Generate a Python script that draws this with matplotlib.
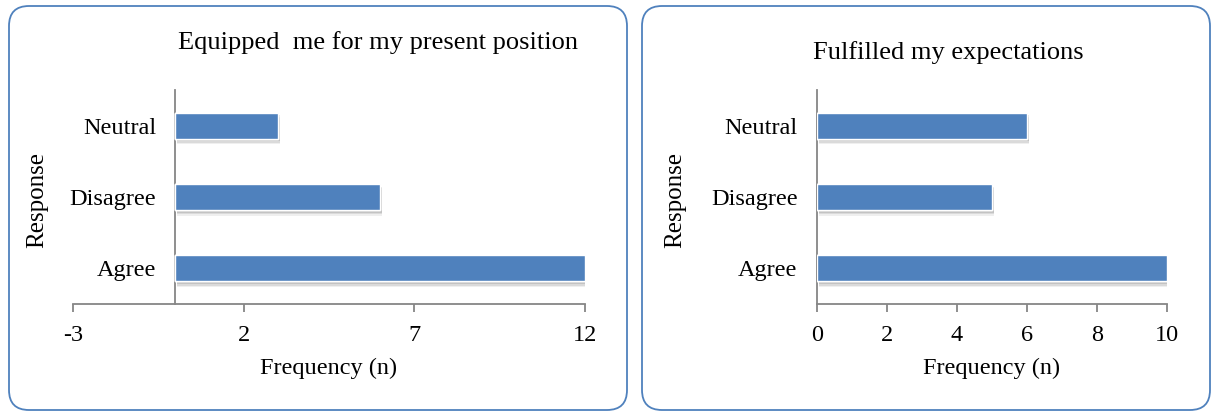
import matplotlib
matplotlib.use("Agg")
import matplotlib.pyplot as plt
import matplotlib.patheffects as pe
from matplotlib.patches import FancyBboxPatch

plt.rcParams['font.family'] = ['Liberation Serif', 'DejaVu Serif']

categories = ["Agree", "Disagree", "Neutral"]
left_values = [12, 6, 3]
right_values = [10, 5, 6]
left_title = "Equipped  me for my present position"
right_title = "Fulfilled my expectations"
left_ticks = [-3, 2, 7, 12]
right_ticks = [0, 2, 4, 6, 8, 10]

W, H = 1212, 412
fig = plt.figure(figsize=(W / 100, H / 100), dpi=100)

def fx(px):
    return px / W

def fy(py):
    return 1 - py / H

# rounded frames
for (x0, x1) in [(9, 627), (642, 1210)]:
    box = FancyBboxPatch((fx(x0), fy(410)), fx(x1 - x0), (410 - 6) / H,
                         boxstyle="round,pad=0,rounding_size=0.0165",
                         transform=fig.transFigure, facecolor="none",
                         edgecolor="#4f81bd", linewidth=1.3,
                         mutation_aspect=W / H, zorder=-1)
    fig.patches.append(box)

bar_color = "#4f81bd"
axis_color = "#868686"
FS = 17.5

def make(ax_px, values, xlim, ticks, title, title_xy, ylabel_x):
    x0, x1, ytop, ybot = ax_px
    ax = fig.add_axes([fx(x0), fy(ybot), fx(x1 - x0), (ybot - ytop) / H])
    ax.patch.set_alpha(0)
    bars = ax.barh(categories, values, height=0.365, color=bar_color,
                   edgecolor="white", linewidth=1.0, zorder=3)
    shadow = [pe.withSimplePatchShadow(offset=(1.5, -o), shadow_rgbFace="#808080",
                                       alpha=a)
              for o, a in [(4, 0.12), (3, 0.18), (2, 0.25)]]
    for b in bars:
        b.set_path_effects(shadow + [pe.Normal()])
    ax.set_xlim(*xlim)
    ax.set_ylim(-0.5, 2.5)
    ax.set_xticks(ticks)
    ax.set_xticklabels([str(t) for t in ticks])
    for s in ["top", "right"]:
        ax.spines[s].set_visible(False)
    for s in ["bottom", "left"]:
        ax.spines[s].set_color(axis_color)
        ax.spines[s].set_linewidth(1.3)
    ax.spines["left"].set_position(("data", 0))
    ax.tick_params(axis="x", direction="out", length=6, width=1.3,
                   color=axis_color, labelsize=FS, pad=9, labelcolor="black")
    ax.tick_params(axis="y", length=0, labelsize=FS, pad=14)
    ax.set_xlabel("Frequency (n)", fontsize=FS)
    ax.xaxis.set_label_coords(fx((x0 + x1) / 2), fy(358), transform=fig.transFigure)
    ax.set_ylabel("Response", fontsize=FS + 0.5)
    ax.yaxis.set_label_coords(fx(ylabel_x), fy(200), transform=fig.transFigure)
    fig.text(fx(title_xy[0]), fy(title_xy[1]), title, fontsize=19,
             ha="center", va="center")
    return ax

axL = make((73, 585, 90, 304), left_values, (-3, 12), left_ticks, left_title, (378, 43), 48)
axR = make((817, 1167, 90, 304), right_values, (0, 10), right_ticks, right_title, (948, 53), 686)

fig.savefig("out.png", dpi=100)
